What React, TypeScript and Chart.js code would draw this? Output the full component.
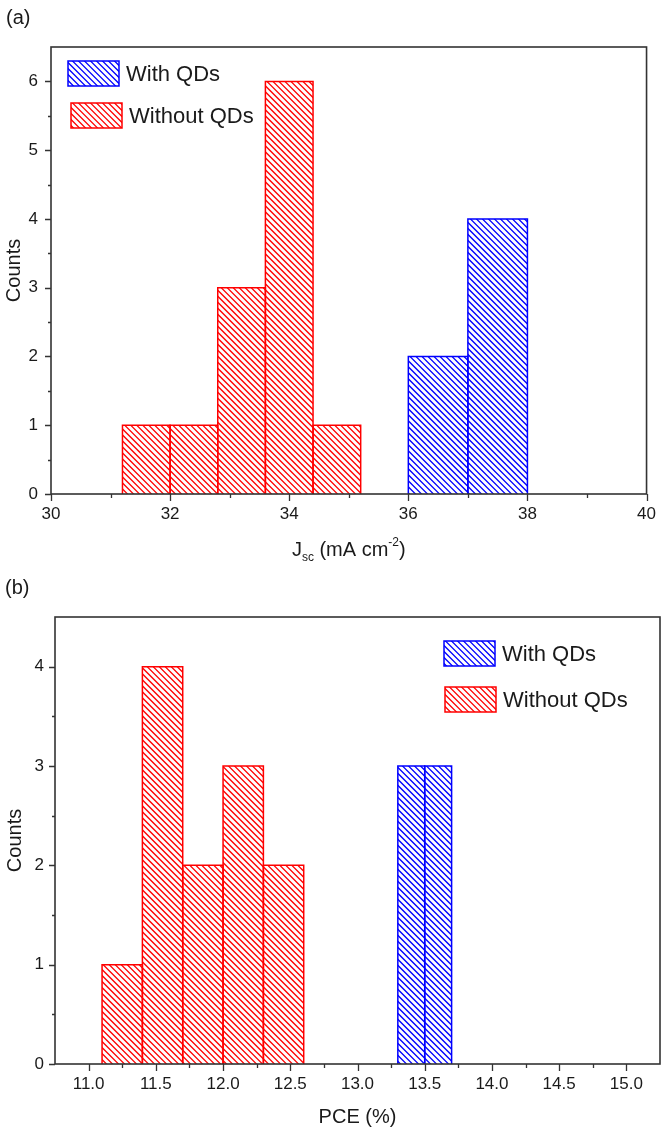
import React, { useEffect, useRef } from "react";
import { Chart, registerables } from "chart.js";
Chart.register(...registerables);

// ---------- data ----------
const seriesNames = ["With QDs", "Without QDs"];
const seriesColors = ["#0000ff", "#ff0000"];

// Panel (a): Jsc histogram
const jscWithEdges = [36.0, 37.0, 38.0];
const jscWithCounts = [2, 4];
const jscWithoutEdges = [31.2, 32.0, 32.8, 33.6, 34.4, 35.2];
const jscWithoutCounts = [1, 1, 3, 6, 1];
const jscTicks = [30, 32, 34, 36, 38, 40];
const jscMinorTicks = [31, 33, 35, 37, 39];
const jscCountTicks = [0, 1, 2, 3, 4, 5, 6];
const jscCountMinorTicks = [0.5, 1.5, 2.5, 3.5, 4.5, 5.5];

// Panel (b): PCE histogram
const pceWithEdges = [13.3, 13.5, 13.7];
const pceWithCounts = [3, 3];
const pceWithoutEdges = [11.1, 11.4, 11.7, 12.0, 12.3, 12.6];
const pceWithoutCounts = [1, 4, 2, 3, 2];
const pceTicks = [11.0, 11.5, 12.0, 12.5, 13.0, 13.5, 14.0, 14.5, 15.0];
const pceMinorTicks = [11.25, 11.75, 12.25, 12.75, 13.25, 13.75, 14.25, 14.75];
const pceCountTicks = [0, 1, 2, 3, 4];
const pceCountMinorTicks = [0.5, 1.5, 2.5, 3.5];

const FONT = '"Liberation Sans", Arial, Helvetica, sans-serif';
const AXIS_COLOR = "#333333";
const TEXT_COLOR = "#1a1a1a";
const HATCH = 6;

function hatchRect(ctx: CanvasRenderingContext2D, x0: number, y0: number, x1: number, y1: number, color: string) {
  const l = Math.min(x0, x1), r = Math.max(x0, x1);
  const t = Math.min(y0, y1), b = Math.max(y0, y1);
  ctx.save();
  ctx.beginPath();
  ctx.rect(l, t, r - l, b - t);
  ctx.clip();
  ctx.strokeStyle = color;
  ctx.lineWidth = 1.25;
  ctx.beginPath();
  const cStart = Math.floor((t - r) / HATCH) * HATCH;
  for (let c = cStart; c <= b - l + HATCH; c += HATCH) {
    ctx.moveTo(l - 2, l - 2 + c + 0.5);
    ctx.lineTo(r + 2, r + 2 + c + 0.5);
  }
  ctx.stroke();
  ctx.restore();
}

function binDatasets(edges: number[], counts: number[], color: string, series: number) {
  return counts.map((h, i) => ({
    data: [
      { x: edges[i], y: 0 },
      { x: edges[i], y: h },
      { x: edges[i + 1], y: h },
      { x: edges[i + 1], y: 0 },
    ],
    series,
    showLine: true,
    fill: false,
    backgroundColor: "transparent",
    borderColor: color,
    borderWidth: 1.5,
    pointRadius: 0,
    pointHoverRadius: 0,
    tension: 0,
  }));
}

type TitlePart = { text: string; size: number; dy: number };

interface PanelCfg {
  label: string;
  labelPos: [number, number];
  withEdges: number[];
  withCounts: number[];
  withoutEdges: number[];
  withoutCounts: number[];
  xMin: number;
  xMax: number;
  yMax: number;
  xTicks: number[];
  xMinor: number[];
  yTicks: number[];
  yMinor: number[];
  decimals: number;
  padTop: number;
  padRight: number;
  yWidth: number;
  xHeight: number;
  yLabelPad: number;
  xTitle: TitlePart[];
  xTitleY: number;
  yTitleX: number;
  legendBoxes: [number, number][];
}

function Panel({ cfg }: { cfg: PanelCfg }) {
  const ref = useRef<HTMLCanvasElement>(null);
  useEffect(() => {
    const canvas = ref.current!;
    const datasets = [
      ...binDatasets(cfg.withoutEdges, cfg.withoutCounts, seriesColors[1], 1),
      ...binDatasets(cfg.withEdges, cfg.withCounts, seriesColors[0], 0),
    ];

    const decor = {
      id: "decor",
      beforeDatasetsDraw(chart: any) {
        const ctx: CanvasRenderingContext2D = chart.ctx;
        chart.data.datasets.forEach((ds: any, i: number) => {
          const pts = chart.getDatasetMeta(i).data;
          if (pts.length < 4) return;
          hatchRect(ctx, pts[0].x, pts[0].y, pts[2].x, pts[2].y, ds.borderColor);
        });
      },
      afterDraw(chart: any) {
        const ctx: CanvasRenderingContext2D = chart.ctx;
        const xs = chart.scales.x;
        const ys = chart.scales.y;
        const a = chart.chartArea;
        ctx.save();
        ctx.strokeStyle = AXIS_COLOR;
        ctx.lineWidth = 1.6;
        ctx.strokeRect(a.left, a.top, a.right - a.left, a.bottom - a.top);
        ctx.lineWidth = 1.3;
        ctx.beginPath();
        for (const v of cfg.xTicks) {
          const p = Math.round(xs.getPixelForValue(v)) + 0.5;
          ctx.moveTo(p, a.bottom);
          ctx.lineTo(p, a.bottom + 7);
        }
        for (const v of cfg.xMinor) {
          const p = Math.round(xs.getPixelForValue(v)) + 0.5;
          ctx.moveTo(p, a.bottom);
          ctx.lineTo(p, a.bottom + 4);
        }
        for (const v of cfg.yTicks) {
          const p = Math.round(ys.getPixelForValue(v)) + 0.5;
          ctx.moveTo(a.left, p);
          ctx.lineTo(a.left - 6, p);
        }
        for (const v of cfg.yMinor) {
          const p = Math.round(ys.getPixelForValue(v)) + 0.5;
          ctx.moveTo(a.left, p);
          ctx.lineTo(a.left - 3, p);
        }
        ctx.stroke();

        ctx.fillStyle = TEXT_COLOR;
        ctx.textBaseline = "middle";
        ctx.textAlign = "left";
        let total = 0;
        for (const part of cfg.xTitle) {
          ctx.font = `${part.size}px ${FONT}`;
          total += ctx.measureText(part.text).width;
        }
        let x = (a.left + a.right) / 2 - total / 2;
        for (const part of cfg.xTitle) {
          ctx.font = `${part.size}px ${FONT}`;
          ctx.fillText(part.text, x, cfg.xTitleY + part.dy);
          x += ctx.measureText(part.text).width;
        }

        ctx.save();
        ctx.translate(cfg.yTitleX, (a.top + a.bottom) / 2);
        ctx.rotate(-Math.PI / 2);
        ctx.textAlign = "center";
        ctx.font = `20px ${FONT}`;
        ctx.fillText("Counts", 0, 0);
        ctx.restore();

        ctx.font = `20px ${FONT}`;
        ctx.textAlign = "left";
        ctx.fillText(cfg.label, cfg.labelPos[0], cfg.labelPos[1]);

        cfg.legendBoxes.forEach(([bx, by], i) => {
          const w = 51;
          const h = 25;
          hatchRect(ctx, bx, by, bx + w, by + h, seriesColors[i]);
          ctx.strokeStyle = seriesColors[i];
          ctx.lineWidth = 1.5;
          ctx.strokeRect(bx, by, w, h);
          ctx.fillStyle = TEXT_COLOR;
          ctx.font = `22px ${FONT}`;
          ctx.textAlign = "left";
          ctx.textBaseline = "middle";
          ctx.fillText(seriesNames[i], bx + w + 7, by + h / 2 + 1);
        });
        ctx.restore();
      },
    };

    const chart = new Chart(canvas, {
      type: "line",
      data: { datasets: datasets as any },
      options: {
        animation: false,
        responsive: false,
        devicePixelRatio: 1,
        events: [],
        layout: { padding: { top: cfg.padTop, right: cfg.padRight, bottom: 0, left: 0 } },
        plugins: { legend: { display: false }, tooltip: { enabled: false }, title: { display: false } },
        scales: {
          x: {
            type: "linear",
            min: cfg.xMin,
            max: cfg.xMax,
            grid: { display: false, drawTicks: false },
            border: { display: false },
            afterBuildTicks: (s: any) => {
              s.ticks = cfg.xTicks.map((v) => ({ value: v }));
            },
            afterFit: (s: any) => {
              s.height = cfg.xHeight;
            },
            ticks: {
              autoSkip: false,
              maxRotation: 0,
              padding: 10,
              color: TEXT_COLOR,
              font: { family: FONT, size: 17 },
              callback: (v: any) => Number(v).toFixed(cfg.decimals),
            },
          },
          y: {
            type: "linear",
            min: 0,
            max: cfg.yMax,
            grid: { display: false, drawTicks: false },
            border: { display: false },
            afterBuildTicks: (s: any) => {
              s.ticks = cfg.yTicks.map((v) => ({ value: v }));
            },
            afterFit: (s: any) => {
              s.width = cfg.yWidth;
            },
            ticks: {
              autoSkip: false,
              padding: cfg.yLabelPad,
              color: TEXT_COLOR,
              font: { family: FONT, size: 17 },
              callback: (v: any) => String(v),
            },
          },
        },
      } as any,
      plugins: [decor],
    });
    return () => chart.destroy();
  }, [cfg]);
  return <canvas ref={ref} width={666} height={567} style={{ display: "block", width: 666, height: 567 }} />;
}

const panelA: PanelCfg = {
  label: "(a)",
  labelPos: [6, 18],
  withEdges: jscWithEdges,
  withCounts: jscWithCounts,
  withoutEdges: jscWithoutEdges,
  withoutCounts: jscWithoutCounts,
  xMin: 30,
  xMax: 40,
  yMax: 6.5,
  xTicks: jscTicks,
  xMinor: jscMinorTicks,
  yTicks: jscCountTicks,
  yMinor: jscCountMinorTicks,
  decimals: 0,
  padTop: 47,
  padRight: 15,
  yWidth: 51,
  xHeight: 73,
  yLabelPad: 13,
  xTitle: [
    { text: "J", size: 20, dy: 0 },
    { text: "sc", size: 12, dy: 8 },
    { text: " (mA cm", size: 20, dy: 0 },
    { text: "-2", size: 12, dy: -7 },
    { text: ")", size: 20, dy: 0 },
  ],
  xTitleY: 550,
  yTitleX: 14,
  legendBoxes: [
    [68, 61],
    [71, 103],
  ],
};

const panelB: PanelCfg = {
  label: "(b)",
  labelPos: [5, 21],
  withEdges: pceWithEdges,
  withCounts: pceWithCounts,
  withoutEdges: pceWithoutEdges,
  withoutCounts: pceWithoutCounts,
  xMin: 10.75,
  xMax: 15.25,
  yMax: 4.5,
  xTicks: pceTicks,
  xMinor: pceMinorTicks,
  yTicks: pceCountTicks,
  yMinor: pceCountMinorTicks,
  decimals: 1,
  padTop: 50,
  padRight: 6,
  yWidth: 55,
  xHeight: 70,
  yLabelPad: 11,
  xTitle: [{ text: "PCE (%)", size: 20, dy: 0 }],
  xTitleY: 550,
  yTitleX: 15,
  legendBoxes: [
    [444, 74],
    [445, 120],
  ],
};

export default function App() {
  return (
    <div style={{ position: "absolute", left: 0, top: 0, width: 666, height: 1134, background: "#fff" }}>
      <Panel cfg={panelA} />
      <Panel cfg={panelB} />
    </div>
  );
}
